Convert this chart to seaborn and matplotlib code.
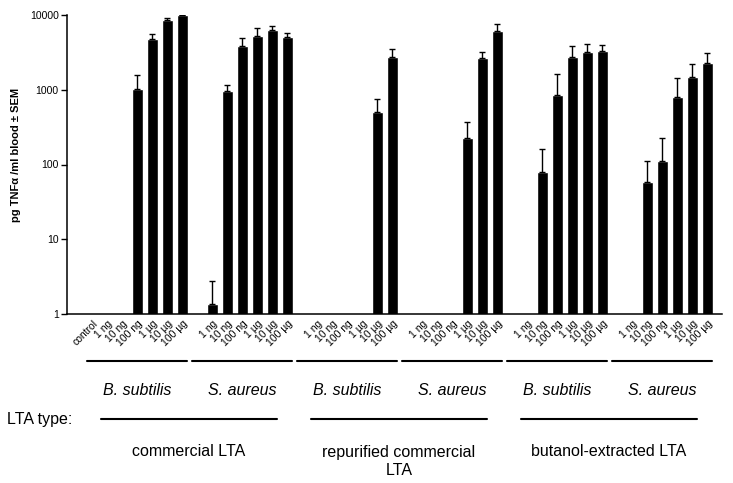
import numpy as np
import pandas as pd
import matplotlib
matplotlib.use("Agg")
import matplotlib.pyplot as plt
import matplotlib.transforms as mtransforms
from matplotlib.ticker import FixedLocator, NullLocator
import seaborn as sns

nan = np.nan

doses = ["1 ng", "10 ng", "100 ng", "1 µg", "10 µg", "100 µg"]
species = ["B. subtilis", "S. aureus"]
lta_types = ["commercial LTA", "repurified commercial\nLTA", "butanol-extracted LTA"]

# mean pg TNFa/ml, one list per (LTA type, species); nan = not detected
comm_bs = [nan, nan, 1020, 4750, 8550, 9900]
comm_sa = [1.36, 970, 3860, 5250, 6250, 5140]
rep_bs = [nan, nan, nan, nan, 500, 2780]
rep_sa = [nan, nan, nan, 224, 2670, 6120]
but_bs = [nan, 80, 840, 2780, 3240, 3310]
but_sa = [nan, 57.5, 112, 807, 1460, 2290]

# SEM (upper error only)
comm_bs_sem = [0, 0, 550, 830, 650, 0]
comm_sa_sem = [1.37, 180, 1030, 1390, 880, 610]
rep_bs_sem = [0, 0, 0, 0, 260, 780]
rep_sa_sem = [0, 0, 0, 150, 570, 1530]
but_bs_sem = [0, 80, 780, 1040, 820, 710]
but_sa_sem = [0, 55.5, 112, 608, 740, 790]

control = nan

means = [comm_bs, comm_sa, rep_bs, rep_sa, but_bs, but_sa]
sems = [comm_bs_sem, comm_sa_sem, rep_bs_sem, rep_sa_sem, but_bs_sem, but_sa_sem]

# positions: control at 0, each group of 6 doses with one empty slot between
rows = [{"pos": 0, "label": "control", "value": control, "sem": 0}]
for g in range(6):
    start = 1 + 7 * g
    for d in range(6):
        rows.append({"pos": start + d, "label": doses[d],
                     "value": means[g][d], "sem": sems[g][d]})
df = pd.DataFrame(rows)

sns.set_style("ticks", {"axes.edgecolor": "black", "text.color": "black",
                        "axes.labelcolor": "black", "xtick.color": "black",
                        "ytick.color": "black"})
plt.rcParams["font.family"] = ["Liberation Sans", "DejaVu Sans"]

fig = plt.figure(figsize=(7.33, 4.83), dpi=100)
ax = fig.add_axes([67 / 733, 1 - 314 / 483, 655 / 733, 299 / 483])

d = df.dropna(subset=["value"])
sns.barplot(data=d, x="pos", y="value", native_scale=True, color="black",
            width=0.72, errorbar=None, saturation=1, ax=ax)
ax.errorbar(d["pos"], d["value"], yerr=[np.zeros(len(d)), d["sem"]],
            fmt="none", ecolor="black", elinewidth=1, capsize=2.5, capthick=1)

ax.set_yscale("log")
ax.set_ylim(1, 10000)
ax.set_xlim(-1.7, 41.97)
ax.yaxis.set_major_locator(FixedLocator([1, 10, 100, 1000, 10000]))
ax.yaxis.set_minor_locator(NullLocator())
ax.set_yticklabels(["1", "10", "100", "1000", "10000"], fontsize=7.5)
ax.set_xticks(df["pos"])
ax.set_xticklabels(df["label"], rotation=45, ha="right", va="top",
                   rotation_mode="anchor", fontsize=7.5)
ax.tick_params(axis="x", length=0, pad=3)
ax.tick_params(axis="y", length=4, width=1, pad=2)
ax.set_xlabel("")
ax.set_ylabel("pg TNFα /ml blood ± SEM", fontsize=8, fontweight="bold")
ax.yaxis.set_label_coords(-0.0707, 0.532)
sns.despine(ax=ax)
for s in ["left", "bottom"]:
    ax.spines[s].set_linewidth(1.1)

trans = mtransforms.blended_transform_factory(ax.transData, ax.transAxes)
for g in range(6):
    start = 1 + 7 * g
    x0, x1 = start - 1.37, start + 5.3
    ax.plot([x0, x1], [-0.156, -0.156], color="black", lw=1.5,
            transform=trans, clip_on=False)
    ax.text((x0 + x1) / 2, -0.2565, species[g % 2], style="italic",
            fontsize=11.5, ha="center", va="center", transform=trans)

for t in range(3):
    x0 = 1 + 14 * t - 0.43
    x1 = 1 + 14 * t + 7 + 4.3
    ax.plot([x0, x1], [-0.352, -0.352], color="black", lw=1.5,
            transform=trans, clip_on=False)
    ypos = -0.4615 if "\n" not in lta_types[t] else -0.493
    ax.text((x0 + x1) / 2, ypos, lta_types[t], fontsize=11.5,
            ha="center", va="center", transform=trans)

fig.text(7 / 733, 1 - 419.3 / 483, "LTA type:", fontsize=11.5,
         ha="left", va="center")

fig.savefig("out.png", dpi=100)
